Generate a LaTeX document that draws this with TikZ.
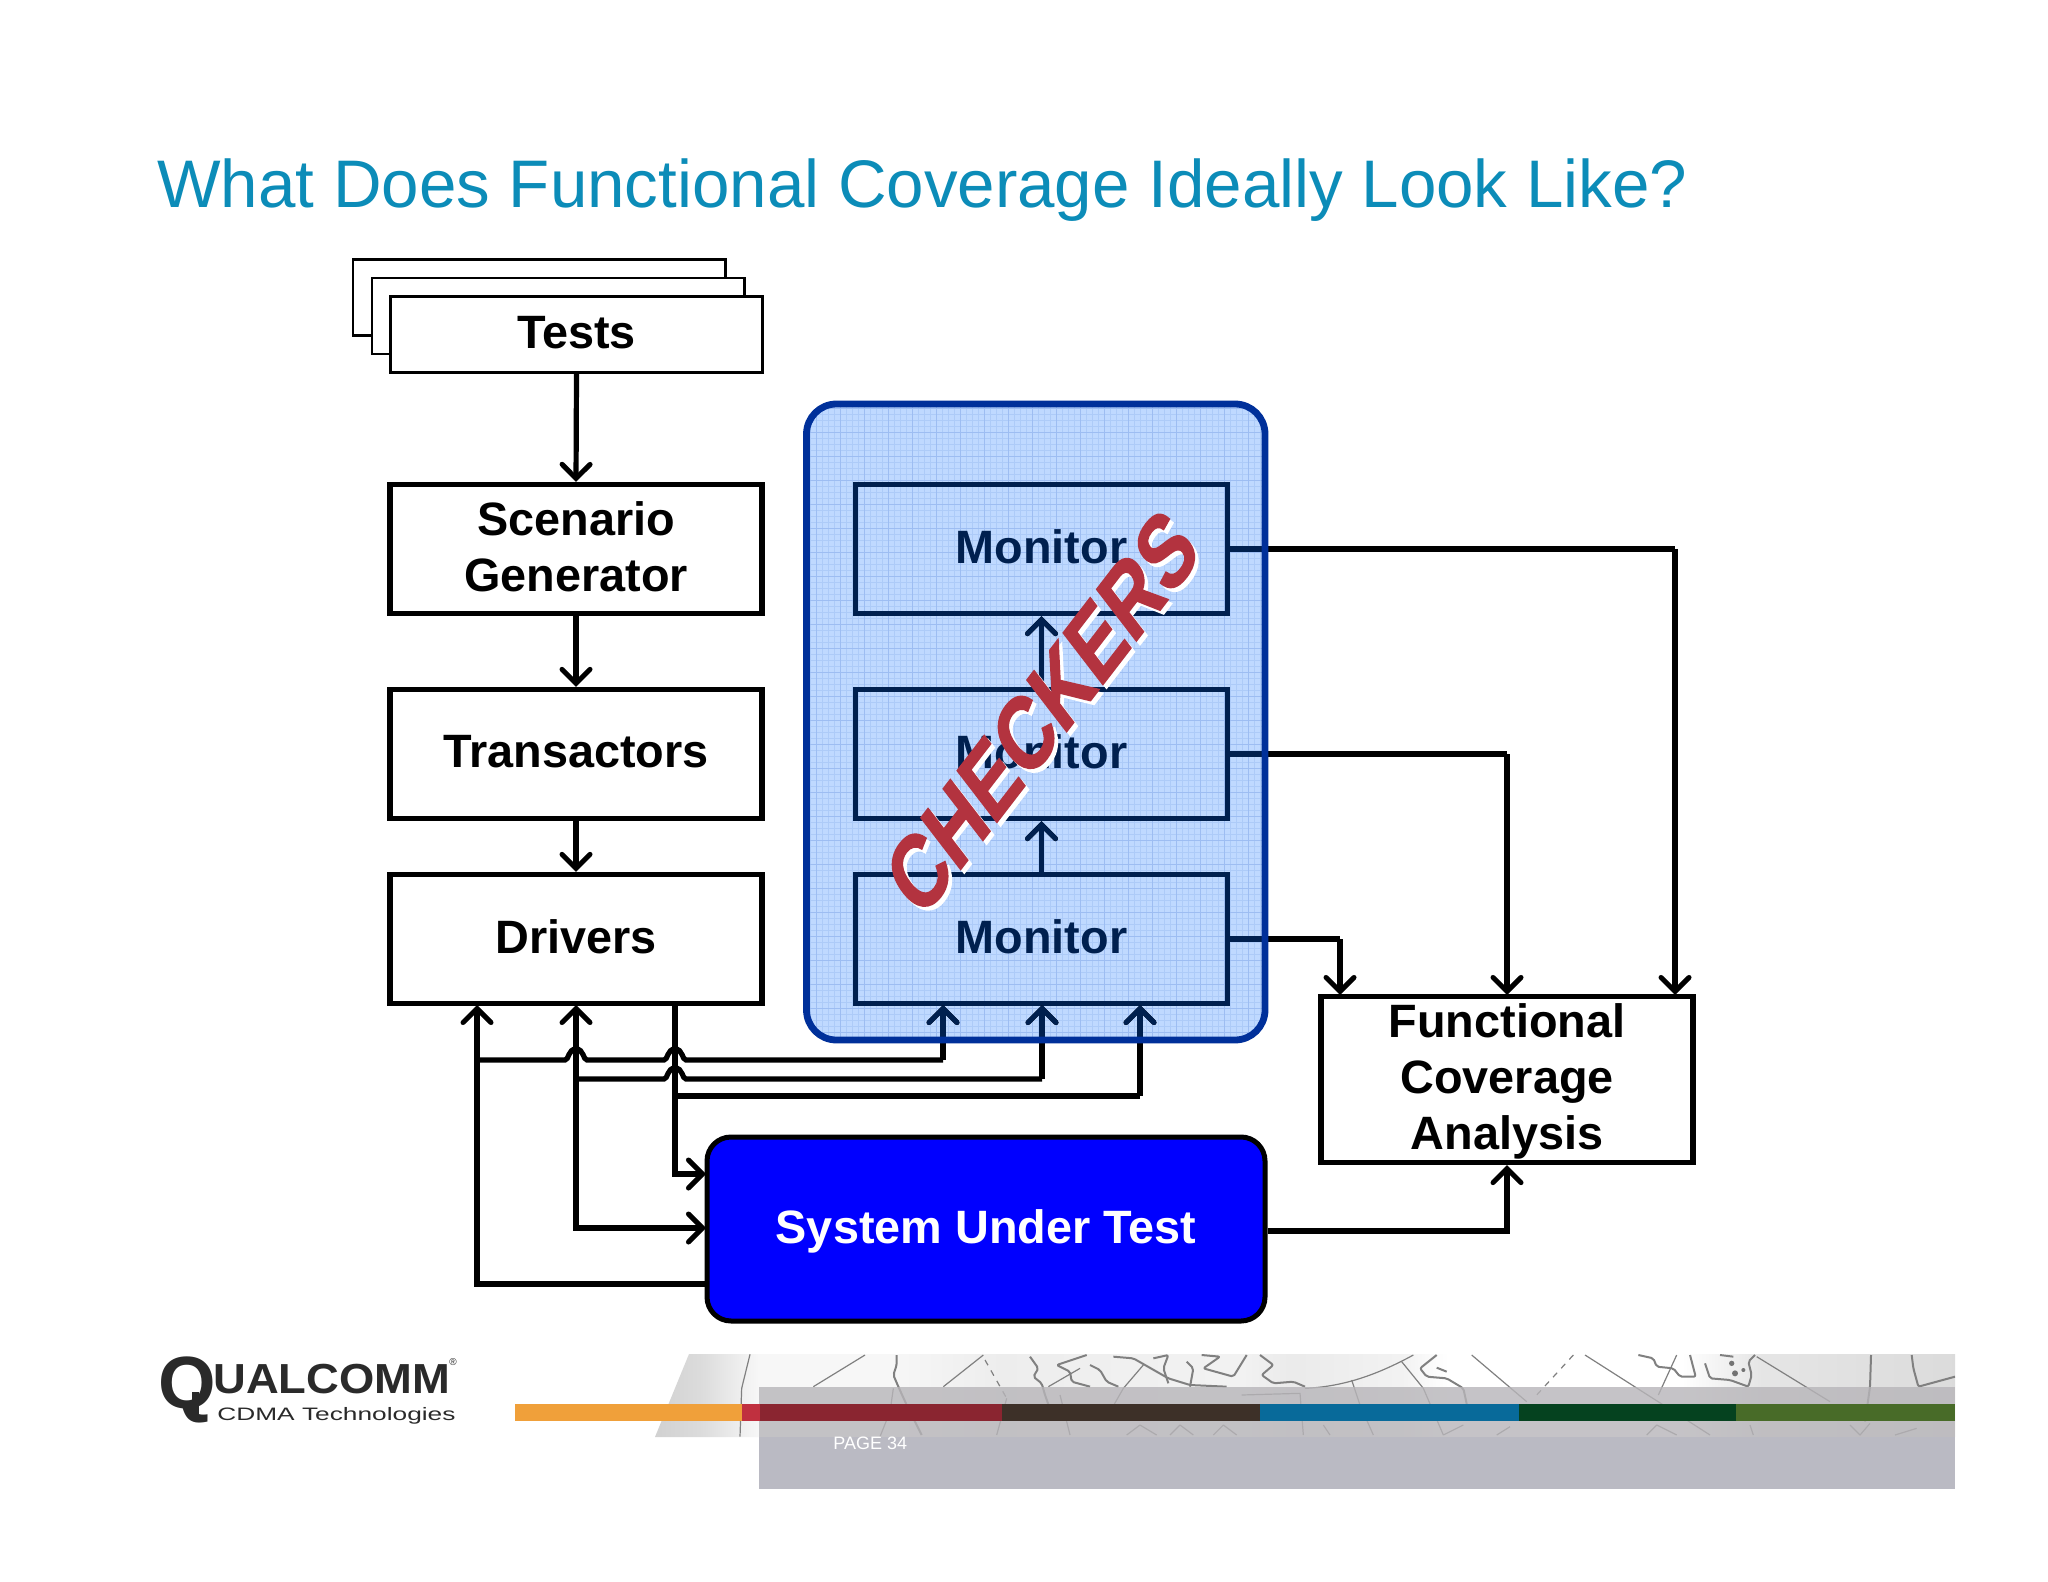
\documentclass[tikz,border=0pt]{standalone}
\usepackage{fontspec}
\setmainfont{Liberation Sans}
\newfontfamily\chkfont[BoldFeatures={FakeBold=1.6}]{Liberation Sans}
\usetikzlibrary{arrows.meta,calc}
\definecolor{titleblue}{HTML}{0C8CB8}
\definecolor{navy}{HTML}{00204F}
\definecolor{panelfill}{HTML}{BFD9FF}
\definecolor{panelgrid}{HTML}{ADCBF8}
\definecolor{panelgridB}{HTML}{9DBDF2}
\definecolor{panelborder}{HTML}{00309A}
\definecolor{checkred}{HTML}{B3333F}
\definecolor{baro}{HTML}{F0A03A}
\definecolor{barr}{HTML}{8A2530}
\definecolor{barrb}{HTML}{C0303F}
\definecolor{bark}{HTML}{3D3028}
\definecolor{barb}{HTML}{086A9A}
\definecolor{bardg}{HTML}{05421F}
\definecolor{barg}{HTML}{486B28}
\definecolor{footgray}{HTML}{BABAC3}
\definecolor{footgrayb}{HTML}{B7B5B9}
\definecolor{logoink}{HTML}{2A2A2A}
\pgfdeclarehorizontalshading{bandshade}{100bp}{color(0bp)=(black!18);color(25bp)=(black!18);color(26.75bp)=(black!14);color(29bp)=(black!3);color(34bp)=(black!3);color(38.25bp)=(black!7);color(47.5bp)=(black!5);color(49.5bp)=(black!8);color(53.75bp)=(black!5);color(55.5bp)=(white);color(64.5bp)=(white);color(67.5bp)=(black!10);color(75bp)=(black!14);color(100bp)=(black!14)}
\newcommand{\upshift}{\rule[-2.2pt]{0pt}{2.2pt}}
\tikzset{
  x=0.5pt,y=-0.5pt,
  barbtip/.style={-{Straight Barb[length=7pt,width=14pt,line cap=round,line width=2.5pt]}},
  barbboth/.style={{Straight Barb[length=7pt,width=14pt,line cap=round,line width=2.5pt]}-{Straight Barb[length=7pt,width=14pt,line cap=round,line width=2.5pt]}},
  conn/.style={line width=2.6pt,line join=miter},
  box/.style={draw=black,line width=2.6pt,fill=white,minimum width=186pt,minimum height=64.5pt,inner sep=0pt,align=center,font=\fontsize{23.4}{28}\selectfont\bfseries,text=black},
  testbox/.style={draw=black,line width=1.3pt,fill=white,minimum width=186.2pt,minimum height=37.9pt,inner sep=0pt,align=center,font=\fontsize{23.4}{28}\selectfont\bfseries},
  monbox/.style={box,draw=navy,text=navy,fill=none},
  mapline/.style={draw=black!50,line width=0.6pt,line join=round},
  maplinet/.style={draw=black!50,line width=1pt,line join=round,rounded corners=1pt},
}
\newcommand{\monitorlinks}[1]{%
  \draw[conn,#1] (m1.east) -- (m1.east -| fa3);
  \draw[conn,#1] (m2.east) -- (m2.east -| fa2);
  \draw[conn,#1] (m3.east) -- (m3.east -| fa1);
  \draw[conn,barbtip,#1] (m3.north) -- (m2.south);
  \draw[conn,barbtip,#1] (m2.north) -- (m1.south);
  \draw[conn,barbtip,#1] (j1) -- (t1);
  \draw[conn,barbtip,#1] (j2) -- (t2);
  \draw[conn,barbtip,#1] (j3) -- (t3);
}
\newcommand{\jumpr}[2]{.. controls ($(#1,#2)+(-7,0)$) and ($(#1,#2)+(-8,-11)$) .. ($(#1,#2)+(0,-11)$) .. controls ($(#1,#2)+(8,-11)$) and ($(#1,#2)+(7,0)$) .. ($(#1,#2)+(11,0)$)}
\begin{document}
\begin{tikzpicture}
\useasboundingbox (0,0) rectangle (2048,1582);
\fill[white] (0,0) rectangle (2048,1582);
% title
\node[anchor=base west,inner sep=0pt,text=titleblue,font=\fontsize{33.65}{40}\selectfont] (title) at (157,208) {What Does Functional Coverage Ideally Look Like?};
% tests stack
\node[testbox] (t3) at (539,297.5) {};
\node[testbox] (t2) at (558,316) {};
\node[testbox] (tests) at (576.5,334.5) {Tests\upshift};
% left column
\node[box] (scen) at (576,549) {Scenario\\Generator\upshift};
\node[box] (trans) at (576,754) {Transactors\upshift};
\node[box] (drv) at (576,939) {Drivers\upshift};
% panel
\path[fill=panelfill,rounded corners=15pt] (806.5,404) rectangle (1265,1040);
\begin{scope}
  \clip[rounded corners=15pt] (806.5,404) rectangle (1265,1040);
  \draw[panelgrid,line width=0.25pt,step=3pt] (800,1045) grid (1270,400);
  \draw[panelgridB,line width=0.35pt,step=12pt] (800,1045) grid (1270,400);
\end{scope}
% monitors
\node[monbox] (m1) at (1041.5,549) {Monitor\upshift};
\node[monbox] (m2) at (1041.5,754) {Monitor\upshift};
\node[monbox] (m3) at (1041.5,939) {Monitor\upshift};
% FCA and SUT
\node[box,minimum height=83pt] (fca) at (1507,1079.5) {\rule{0pt}{19pt}Functional\\Coverage\\Analysis};
\node[draw=black,line width=2.5pt,fill=blue,rounded corners=12pt,minimum width=279pt,minimum height=92pt,inner sep=0pt,text=white,font=\fontsize{23.4}{28}\selectfont\bfseries] (sut) at (986,1229) {\rule{0pt}{19pt}System Under Test};
% named ends
\coordinate (fa1) at (1340,995);
\coordinate (fa2) at (1507,995);
\coordinate (fa3) at (1675,995);
\coordinate (t1) at (943,1005);
\coordinate (t2) at (1042,1005);
\coordinate (t3) at (1140,1005);
\coordinate (j1) at (943,1060);
\coordinate (j2) at (1042,1079);
\coordinate (j3) at (1140,1096);
\coordinate (xa) at (477,1005);
\coordinate (xb) at (576,1005);
\coordinate (xc) at (675,1005);
\coordinate (sa) at (706,1284);
\coordinate (sb) at (706,1228);
\coordinate (sc) at (706,1174);
% monitor links, black then navy within the panel
\monitorlinks{black}
\begin{scope}
  \clip[rounded corners=15pt] (806.5,404) rectangle (1265,1040);
  \monitorlinks{navy}
\end{scope}
\draw[panelborder,line width=3.4pt,rounded corners=15pt] (806.5,404) rectangle (1265,1040);
% arrows into fca
\draw[conn,barbtip] (m1.east -| fa3) -- (fa3);
\draw[conn,barbtip] (m2.east -| fa2) -- (fa2);
\draw[conn,barbtip] (m3.east -| fa1) -- (fa1);
% left column links
\draw[conn,barbtip] (tests.south) -- (scen.north);
\draw[conn,barbtip] (scen.south) -- (trans.north);
\draw[conn,barbtip] (trans.south) -- (drv.north);
% drivers / sut bus
\draw[conn,barbtip] (sa) -- (477,1284) -- (xa);
\draw[conn,barbboth] (xb) -- (576,1228) -- (sb);
\draw[conn,barbtip] (xc) -- (675,1174) -- (sc);
% bus to monitors with line jumps
\draw[conn] (477,1060) -- (565,1060) \jumpr{576}{1060} -- (664,1060) \jumpr{675}{1060} -- (j1);
\draw[conn] (576,1079) -- (664,1079) \jumpr{675}{1079} -- (j2);
\draw[conn] (675,1096) -- (j3);
% sut to fca
\draw[conn,barbtip] (sut.east |- 1507,1231) -- (1507,1231) -- (fca.south);
% checkers
\begin{scope}[shift={(1042,712)},yscale=1.3,rotate=45,yscale=1.15,transform shape]
  \node[text=white,font=\chkfont\fontsize{35.5}{38}\selectfont\bfseries,inner sep=0pt] (chk0) at (0.5,4) {CHECKERS};
  \node[text=checkred,font=\chkfont\fontsize{35.5}{38}\selectfont\bfseries,inner sep=0pt] (chk) at (0,0) {CHECKERS};
\end{scope}
% footer band
\path[shading=bandshade] (655,1437) -- (689,1354) -- (1955,1354) -- (1955,1437) -- cycle;
\begin{scope}
  \clip (655,1354) rectangle (1955,1437);
  \begin{scope}[shift={(640,1345)},x=0.16667pt,y=-0.16667pt]
    \draw[mapline] (330,28) -- (305,130) -- (300,275);
    \draw[mapline] (675,30) -- (520,125);
    \draw[maplinet] (770,30) -- (770,60) -- (760,90) -- (775,125) -- (800,180) -- (845,270);
    \draw[mapline] (760,130) -- (750,200) -- (720,275);
    \draw[mapline] (1030,30) -- (910,125);
    \draw[mapline,dashed] (1035,45) -- (1100,160);
    \draw[maplinet] (1170,35) -- (1195,70) -- (1180,95) -- (1205,115) -- (1215,150) -- (1240,220);
    \draw[maplinet] (1340,30) -- (1250,60) -- (1290,80) -- (1295,110) -- (1350,125);
    \draw[mapline] (1320,70) -- (1225,125);
    \draw[mapline] (1100,160) -- (1070,270);
    \draw[mapline] (1260,150) -- (1290,270);
  \end{scope}
  \begin{scope}[shift={(1090,1345)},x=0.16667pt,y=-0.16667pt]
    \draw[maplinet] (0,60) -- (30,75) -- (50,110) -- (85,125);
    \draw[maplinet] (70,35) -- (130,40) -- (165,60) -- (235,100) -- (300,120) -- (410,125);
    \draw[maplinet] (190,40) -- (235,30) -- (220,70) -- (235,115);
    \draw[maplinet] (290,50) -- (310,70) -- (300,125);
    \draw[maplinet] (335,30) -- (390,35) -- (340,70) -- (430,95) -- (470,30);
    \draw[mapline] (160,60) -- (100,130) -- (60,200);
    \draw[maplinet] (510,30) -- (550,60) -- (515,90) -- (550,115) -- (610,110) -- (645,125);
    \draw[mapline] (645,130) .. controls (760,125) and (860,90) .. (970,30);
    \draw[mapline] (785,105) -- (810,180) -- (850,270);
    \draw[mapline] (935,50) -- (1000,130) -- (1060,270);
    \draw[maplinet] (1040,30) -- (990,70) -- (1010,95) -- (1070,100) -- (1120,130) -- (1135,200);
    \draw[maplinet] (1040,68) -- (1070,80);
    \draw[mapline] (1145,30) -- (1310,170);
    \draw[mapline] (455,150) -- (630,145) -- (640,270);
    \draw[mapline] (110,270) -- (150,240) -- (200,270);
    \draw[mapline] (240,270) -- (270,240) -- (310,270);
    \draw[mapline] (370,270) -- (400,240) -- (440,270);
    \draw[mapline] (700,240) -- (720,270);
    \draw[mapline] (1060,270) -- (1120,240);
    \draw[mapline] (1220,270) -- (1260,245);
  \end{scope}
  \begin{scope}[shift={(1530,1345)},x=0.16667pt,y=-0.16667pt]
    \draw[mapline,dashed] (130,30) -- (20,150);
    \draw[mapline] (165,30) -- (400,180) -- (540,270);
    \draw[mapline] (440,30) -- (385,150);
    \draw[maplinet] (325,30) -- (370,40) -- (380,65) -- (430,70) -- (450,95) -- (497,95) -- (480,30);
    \draw[maplinet] (525,55) -- (540,100) -- (600,105) -- (655,125) -- (665,90) -- (655,50) -- (675,30);
    \draw[maplinet] (570,30) -- (610,35);
    \fill[black!55] (605,55) circle (8) (615,85) circle (9) (640,75) circle (6);
    \draw[mapline] (680,35) -- (900,170);
    \draw[maplinet] (1023,30) -- (1020,125) -- (1005,230);
    \draw[maplinet] (1145,30) -- (1150,70) -- (1165,125) -- (1275,95);
    \draw[mapline] (660,240) -- (670,270);
    \draw[mapline] (350,270) -- (380,240) -- (440,270);
    \draw[mapline] (960,240) -- (990,270) -- (1020,235);
    \draw[mapline] (1095,270) -- (1160,250);
  \end{scope}
\end{scope}
\fill[fill=footgrayb,fill opacity=.8] (759,1387) rectangle (1955,1437);
\fill[footgray] (759,1437) rectangle (1955,1489);
\fill[baro] (515,1404) rectangle (742,1421);
\fill[barrb] (742,1404) rectangle (760,1421);
\fill[barr] (760,1404) rectangle (1002,1421);
\fill[bark] (1002,1404) rectangle (1260,1421);
\fill[barb] (1260,1404) rectangle (1519,1421);
\fill[bardg] (1519,1404) rectangle (1736,1421);
\fill[barg] (1736,1404) rectangle (1955,1421);
\node[anchor=base west,inner sep=0pt,text=white,font=\fontsize{9}{10}\selectfont] (page) at (833,1449) {PAGE 34};
% logo
\node[anchor=base west,inner sep=0pt,text=logoink,font=\fontsize{37}{40}\selectfont\bfseries] (logoq) at (158,1408) {Q};
\fill[logoink] (192,1392) rectangle (199,1420);
\node[anchor=base west,inner sep=0pt,text=logoink,font=\fontsize{21}{24}\selectfont\bfseries] (logou) at (213,1393) {\scalebox{1.08}[1]{UALCOMM}};
\node[anchor=base west,inner sep=0pt,text=logoink,font=\fontsize{9}{10}\selectfont] (logoc) at (217,1420) {\scalebox{1.46}[1]{CDMA Technologies}};
\node[anchor=center,inner sep=0pt,text=logoink,font=\fontsize{5}{6}\selectfont] (logor) at (453,1362) {®};
\end{tikzpicture}
\end{document}
